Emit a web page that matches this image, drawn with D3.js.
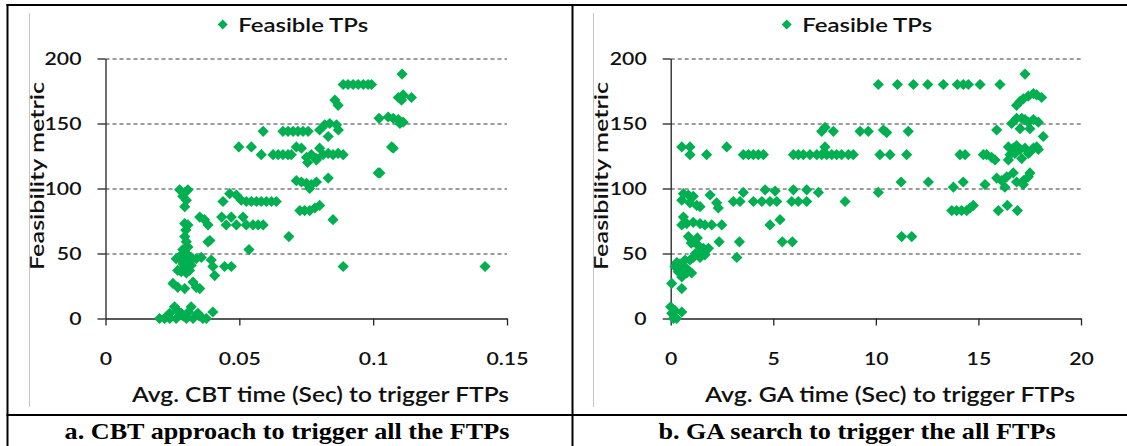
<!DOCTYPE html>
<html>
<head>
<meta charset="utf-8">
<script src="https://cdn.jsdelivr.net/npm/d3@7"></script>
<style>
  html, body { margin: 0; padding: 0; background: #fff; }
  svg { display: block; }
</style>
</head>
<body>
<svg id="chart" width="1127" height="446"></svg>
<script>
// ---------------- data ----------------
const yTicks = [0, 50, 100, 150, 200];
const gridTicks = [50, 100, 150, 200];
const cbtTicks = [0, 0.05, 0.1, 0.15];
const cbtTickLabels = ["0", "0.05", "0.1", "0.15"];
const gaTicks = [0, 5, 10, 15, 20];
const gaTickLabels = ["0", "5", "10", "15", "20"];

const legendLabel = "Feasible TPs";
const yTitle = "Feasibility metric";
const cbtTitle = "Avg. CBT time (Sec) to trigger FTPs";
const gaTitle = "Avg. GA time (Sec) to trigger FTPs";
const captionA = "a. CBT approach to trigger all the FTPs";
const captionB = "b. GA search to trigger the all FTPs";

const cbtX = [0.1108,0.0888,0.0906,0.0925,0.0944,0.0963,0.0981,0.0994,0.0857,0.0869,
  0.1094,0.1112,0.1143,0.1106,0.1022,0.1056,0.1075,0.1094,0.1112,0.1100,
  0.1069,0.1075,0.1019,0.1025,0.0888,0.1418,0.0589,0.0663,0.0682,0.0701,
  0.0719,0.0738,0.0757,0.0800,0.0819,0.0838,0.0863,0.0870,0.0832,0.0498,
  0.0545,0.0582,0.0626,0.0645,0.0663,0.0682,0.0694,0.0713,0.0732,0.0751,
  0.0769,0.0788,0.0800,0.0813,0.0832,0.0850,0.0869,0.0888,0.0755,0.0788,
  0.0713,0.0732,0.0751,0.0769,0.0788,0.0763,0.0832,0.0726,0.0744,0.0763,
  0.0782,0.0800,0.0850,0.0685,0.0464,0.0489,0.0507,0.0526,0.0545,0.0564,
  0.0582,0.0601,0.0620,0.0638,0.0439,0.0434,0.0451,0.0470,0.0489,0.0514,
  0.0526,0.0551,0.0570,0.0589,0.0536,0.0445,0.0470,0.0383,0.0390,0.0352,
  0.0370,0.0383,0.0395,0.0401,0.0408,0.0401,0.0277,0.0296,0.0308,0.0289,
  0.0302,0.0296,0.0296,0.0308,0.0296,0.0302,0.0308,0.0289,0.0302,0.0264,
  0.0283,0.0302,0.0320,0.0339,0.0358,0.0314,0.0296,0.0270,0.0283,0.0302,
  0.0314,0.0252,0.0270,0.0296,0.0327,0.0339,0.0352,0.0202,0.0221,0.0240,
  0.0258,0.0264,0.0283,0.0302,0.0320,0.0327,0.0345,0.0364,0.0240,0.0377,
  0.0230,0.0290,0.0350,0.0270,0.0310,0.0290,0.0308,0.0283,0.0320,0.0300];
const cbtY = [188,180,180,180,180,180,180,180,168,164,
  170,172,170,168,154,155,154,153,151,150,
  132,131,112,112,40,40,144,144,144,144,
  144,144,144,145,149,150,149,145,140,132,
  132,126,126,126,126,126,126,132,131,124,
  126,123,131,126,127,126,127,126,120,122,
  106,105,104,103,105,100,108,83,83,83,
  85,87,76,63,96,95,91,90,90,90,
  90,90,90,90,90,78,72,78,72,78,
  72,72,72,72,53,40,40,59,60,78,
  76,72,45,40,33,5,99,97,99,94,
  91,86,73,72,63,59,55,53,50,46,
  45,47,47,46,47,44,40,37,36,35,
  37,27,24,23,28,24,23,0,0,0,
  9,0,4,0,9,0,4,0,4,0,
  2,2,2,6,5,42,43,49,41,68];

const gaX = [17.27,10.12,11.05,11.83,12.53,13.29,13.97,14.26,14.51,15.08,
  16.05,16.86,17.03,17.19,17.43,17.68,17.84,18.08,16.62,16.86,
  17.11,17.27,17.43,17.68,17.92,17.03,17.51,15.89,18.16,16.46,
  16.70,16.86,17.03,17.27,17.51,17.68,17.84,16.54,16.78,17.11,
  17.43,17.92,16.46,15.24,15.40,15.64,15.81,14.10,14.35,16.70,
  16.86,17.19,17.43,17.51,17.19,15.89,16.13,16.38,16.29,15.32,
  14.26,13.78,13.70,13.94,14.18,14.43,14.59,14.75,15.97,16.41,
  16.90,12.56,11.23,10.12,11.26,11.75,7.36,7.93,9.23,9.63,
  10.37,10.53,11.58,7.52,5.98,6.22,6.47,6.79,7.12,7.36,
  7.60,7.85,8.09,8.33,8.66,8.90,7.52,10.20,10.69,11.50,
  3.54,3.79,4.03,4.27,4.52,2.73,1.75,0.54,0.94,0.94,
  4.60,5.09,5.98,6.63,7.20,3.54,3.05,3.38,4.03,4.44,
  4.84,5.17,5.90,6.22,6.63,8.50,4.84,5.33,5.44,5.93,
  3.35,3.22,2.36,1.92,2.24,2.32,0.62,0.86,1.10,1.43,
  0.54,0.94,1.27,0.62,0.54,0.78,1.10,1.43,1.67,2.00,
  2.49,0.86,1.10,1.35,1.59,1.84,1.67,1.43,1.10,0.21,
  0.45,0.70,0.94,0.37,0.78,1.02,0.54,0.05,0.54,0.00,
  0.05,0.13,0.29,0.54,0.21,0.30,0.60,0.80,1.20,1.50,
  0.40,1.00,1.30];
const gaY = [188,180,180,180,180,180,180,180,180,180,
  180,164,167,169,171,173,172,170,150,154,
  154,153,151,153,151,146,146,145,140,132,
  131,133,130,131,128,131,132,126,127,123,
  127,130,122,126,126,124,122,126,126,112,
  105,106,109,112,103,108,106,109,101,103,
  105,101,83,83,83,83,85,87,83,87,
  83,105,105,97,63,63,144,144,144,144,
  145,143,144,147,126,126,126,126,126,126,
  126,126,126,126,126,126,132,126,126,126,
  126,126,126,126,126,132,126,132,132,126,
  99,98,99,99,97,97,90,90,90,90,
  90,90,90,90,90,90,72,76,59,59,
  59,47,59,95,89,85,96,95,94,86,
  91,89,87,78,72,73,74,73,72,72,
  72,63,59,56,54,54,49,47,47,40,
  42,45,45,36,35,35,32,27,23,9,
  4,0,0,5,6,43,40,38,50,52,
  38,58,62];

// ---------------- drawing ----------------
const svg = d3.select("#chart");
const GREEN = "#00B050";
const SANS = "Lato, 'Open Sans', sans-serif";
const SERIF = "'Liberation Serif', 'Times New Roman', serif";

function stretch(sel, k) {
  sel.each(function () {
    const w = this.getComputedTextLength();
    d3.select(this).attr("textLength", w * k).attr("lengthAdjust", "spacingAndGlyphs");
  });
}
function fitWidth(sel, w) {
  sel.attr("textLength", w).attr("lengthAdjust", "spacingAndGlyphs");
}
function diamond(cx, cy, r) {
  const p = d3.path();
  p.moveTo(cx, cy - r); p.lineTo(cx + r, cy); p.lineTo(cx, cy + r); p.lineTo(cx - r, cy); p.closePath();
  return p.toString();
}

// table frame
const frame = svg.append("g").attr("stroke", "#000").attr("stroke-width", 2);
frame.append("line").attr("x1", 6.5).attr("x2", 1127).attr("y1", 5).attr("y2", 5);
frame.append("line").attr("x1", 7.5).attr("x2", 7.5).attr("y1", 4).attr("y2", 446);
frame.append("line").attr("x1", 572.5).attr("x2", 572.5).attr("y1", 4).attr("y2", 446);
frame.append("line").attr("x1", 6.5).attr("x2", 1127).attr("y1", 415).attr("y2", 415);

function panel(cfg) {
  const g = svg.append("g");
  g.append("line").attr("x1", cfg.frameX).attr("x2", cfg.frameX).attr("y1", 13).attr("y2", 407)
    .attr("stroke", "#c4c4c4").attr("stroke-width", 1);

  const x = d3.scaleLinear().domain(cfg.xDomain).range([cfg.x0, cfg.x1]);
  const y = d3.scaleLinear().domain([0, 200]).range([318.5, 58.5]);

  // gridlines
  const grid = g.append("g").attr("transform", `translate(${cfg.x0},0)`)
    .call(d3.axisLeft(y).tickValues(gridTicks).tickSize(-(cfg.x1 - cfg.x0)).tickFormat(""));
  grid.select(".domain").remove();
  grid.selectAll("line").attr("stroke", "#3a3a3a").attr("stroke-dasharray", "4,3").attr("stroke-width", 1.1);

  // y axis
  const ya = g.append("g").attr("transform", `translate(${cfg.x0},0)`)
    .call(d3.axisLeft(y).tickValues(yTicks).tickSize(8).tickSizeOuter(0).tickPadding(16).tickFormat(d3.format("d")));
  ya.select(".domain").attr("stroke", "#222").attr("stroke-width", 1.3);
  ya.selectAll("line").attr("stroke", "#222").attr("stroke-width", 1.3);
  const yl = ya.selectAll("text").style("font-size", "18px").style("font-weight", 600)
    .style("font-family", SANS).attr("fill", "#111");
  stretch(yl, 1.18);

  // x axis
  const xa = g.append("g").attr("transform", `translate(0,318.5)`)
    .call(d3.axisBottom(x).tickValues(cfg.ticks).tickSize(7).tickSizeOuter(0).tickPadding(27)
      .tickFormat((d, i) => cfg.tickLabels[i]));
  xa.select(".domain").attr("stroke", "#222").attr("stroke-width", 1.3);
  xa.selectAll("line").attr("stroke", "#222").attr("stroke-width", 1.3);
  const xl = xa.selectAll("text").style("font-size", "18px").style("font-weight", 600)
    .style("font-family", SANS).attr("fill", "#111");
  stretch(xl, 1.18);

  // points
  g.append("g").selectAll("path").data(d3.range(cfg.xs.length)).join("path")
    .attr("d", i => diamond(x(cfg.xs[i]), y(cfg.ys[i]), 5.6))
    .attr("fill", GREEN);

  // legend
  const lg = g.append("g");
  lg.append("path").attr("d", diamond(cfg.legendX, 24.5, 5)).attr("fill", GREEN);
  fitWidth(lg.append("text").attr("x", cfg.legendX + 15.5).attr("y", 31.5)
    .style("font-family", SANS).style("font-size", "19px").style("font-weight", 600)
    .attr("fill", "#111").text(legendLabel), 130);

  // y title
  fitWidth(g.append("text").attr("transform", `translate(${cfg.yTitleX},176) rotate(-90)`)
    .attr("text-anchor", "middle").style("font-family", SANS).style("font-size", "20px")
    .style("font-weight", 600).attr("fill", "#111").text(yTitle), 188);

  // x title
  fitWidth(g.append("text").attr("x", cfg.xTitleCx).attr("y", 402).attr("text-anchor", "middle")
    .style("font-family", SANS).style("font-size", "21px").style("font-weight", 600)
    .attr("fill", "#111").text(cfg.xTitle), cfg.xTitleW);

  // caption
  const cap = g.append("text").attr("x", cfg.capCx).attr("y", 438.5).attr("text-anchor", "middle")
    .style("font-family", SERIF).style("font-weight", 700).style("font-size", "24px")
    .attr("fill", "#000").text(cfg.caption);
  stretch(cap, 1.09);
}

panel({
  xs: cbtX, ys: cbtY, xDomain: [0, 0.15], ticks: cbtTicks, tickLabels: cbtTickLabels,
  x0: 105.5, x1: 507, frameX: 29.5, legendX: 222.7, yTitleX: 44,
  xTitle: cbtTitle, xTitleCx: 320.5, xTitleW: 377, caption: captionA, capCx: 287
});
panel({
  xs: gaX, ys: gaY, xDomain: [0, 20], ticks: gaTicks, tickLabels: gaTickLabels,
  x0: 670.7, x1: 1081, frameX: 593.5, legendX: 786.7, yTitleX: 608,
  xTitle: gaTitle, xTitleCx: 890, xTitleW: 370, caption: captionB, capCx: 857
});
</script>
</body>
</html>
